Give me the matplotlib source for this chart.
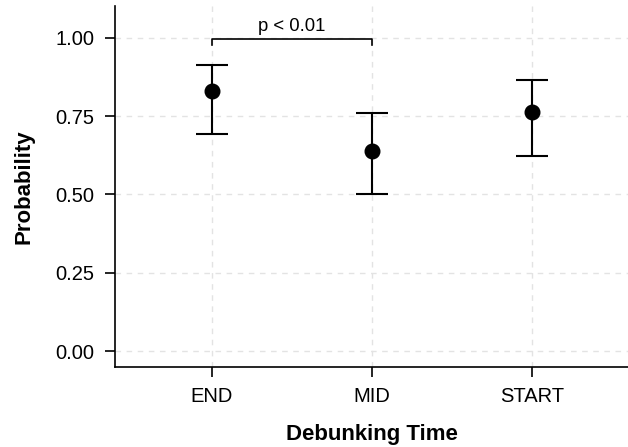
import numpy as np
import matplotlib.pyplot as plt

plt.rcParams['font.family'] = ['Liberation Sans', 'DejaVu Sans']

categories = ['END', 'MID', 'START']
prob = [0.83, 0.64, 0.765]
lower = [0.693, 0.502, 0.622]
upper = [0.912, 0.760, 0.866]
y_ticks = [0.00, 0.25, 0.50, 0.75, 1.00]

x = np.arange(1, len(categories) + 1)
prob = np.array(prob)
yerr = [prob - np.array(lower), np.array(upper) - prob]

fig = plt.figure(figsize=(6.28, 4.47), dpi=100)
ax = fig.add_axes([115.5 / 628, 1 - 367 / 447, 1 - 115.5 / 628, (367 - 6) / 447])

ax.errorbar(x, prob, yerr=yerr, fmt='o', color='black', markersize=10.5,
            elinewidth=1.5, capsize=11.5, capthick=1.5, zorder=3)

# significance bracket
by, tip = 0.996, 0.978
ax.plot([x[0], x[0], x[1], x[1]], [tip, by, by, tip], color='black', lw=1.2)
ax.text((x[0] + x[1]) / 2, by + 0.012, 'p < 0.01', ha='center', va='bottom', fontsize=13.3)

ax.set_xlim(0.4, 3.6)
ax.set_ylim(-0.051, 1.102)
ax.set_xticks(x)
ax.set_xticklabels(categories)
ax.set_yticks(y_ticks)
ax.set_yticklabels([f'{v:.2f}' for v in y_ticks])

ax.grid(True, color='#e3e3e3', linestyle=(0, (4, 4)), linewidth=1)
ax.set_axisbelow(True)
for s in ['top', 'right']:
    ax.spines[s].set_visible(False)
for s in ['left', 'bottom']:
    ax.spines[s].set_linewidth(1.2)
ax.tick_params(direction='out', length=7.5, width=1.2, labelsize=14.5)
ax.tick_params(axis='x', pad=7)
ax.tick_params(axis='y', pad=7.5)

ax.set_xlabel('Debunking Time', fontsize=16, fontweight='bold', labelpad=13)
ax.set_ylabel('Probability', fontsize=16, fontweight='bold', labelpad=15)

fig.savefig('out.png', dpi=100)
